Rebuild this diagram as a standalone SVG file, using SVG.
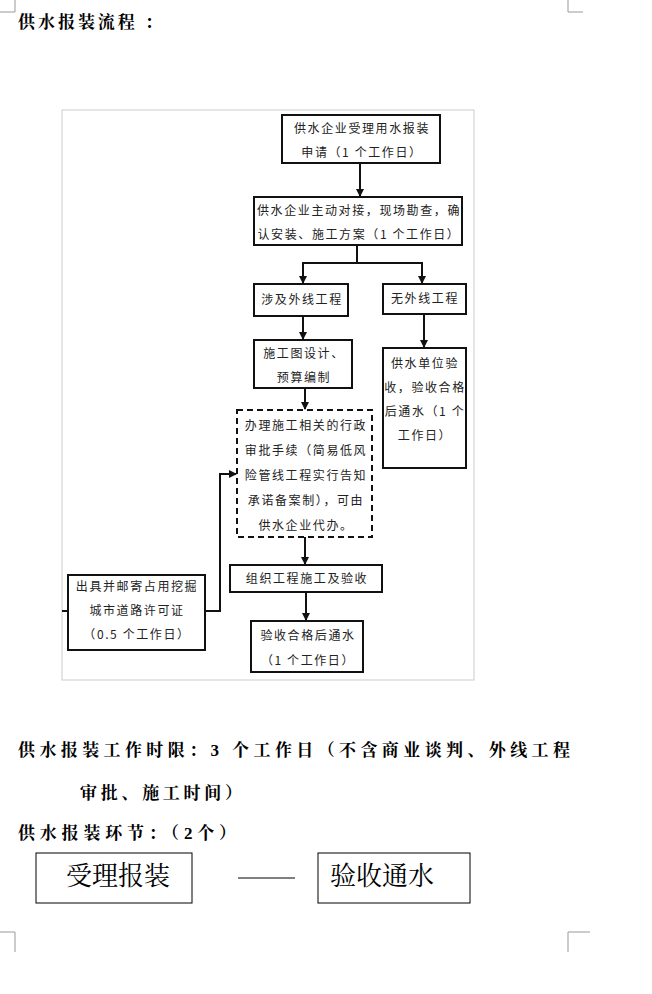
<svg xmlns="http://www.w3.org/2000/svg" width="652" height="994" viewBox="0 0 652 994">
<defs><marker id="ah" markerWidth="8" markerHeight="8" refX="7" refY="4" orient="auto" markerUnits="userSpaceOnUse"><path d="M0,0 L8,4 L0,8 Z" fill="#111"/></marker></defs>
<style>
.b{fill:#fff;stroke:#111;stroke-width:2}
.t{font-family:"Noto Sans CJK SC",sans-serif;font-size:12px;fill:#222;text-anchor:middle;letter-spacing:1.6px}
.h{font-family:"Liberation Serif","Noto Serif CJK SC","Noto Sans CJK SC",serif;font-size:17px;font-weight:bold;fill:#000}
.c{fill:none;stroke:#111;stroke-width:2}
.m{fill:none;stroke:#999;stroke-width:1}
</style>
<rect width="652" height="994" fill="#fff"/>
<path class="m" d="M15,0 V12 M0,12 H15 M568,0 V12 M568,12 H583 M15,952 V932 M0,932 H15 M568,952 V932 M568,932 H590"/>
<text class="h" x="18" y="28" textLength="144" lengthAdjust="spacing">供水报装流程 ：</text>
<rect x="62" y="110" width="412" height="570" fill="none" stroke="#ccc" stroke-width="1"/>
<g id="n1"><rect class="b" x="282" y="115" width="158" height="48"/><text class="t" x="362" y="133">供水企业受理用水报装</text><text class="t" x="362" y="157">申请（1 个工作日）</text></g>
<g id="n2"><rect class="b" x="254" y="197" width="208" height="48"/><text class="t" x="359" y="215">供水企业主动对接，现场勘查，确</text><text class="t" x="359" y="239">认安装、施工方案（1 个工作日）</text></g>
<g id="n3"><rect class="b" x="254" y="284" width="94" height="32"/><text class="t" x="302" y="304">涉及外线工程</text></g>
<g id="n4"><rect class="b" x="383" y="284" width="83" height="30"/><text class="t" x="425" y="303">无外线工程</text></g>
<g id="n5"><rect class="b" x="254" y="340" width="98" height="48"/><text class="t" x="304" y="358">施工图设计、</text><text class="t" x="304" y="382">预算编制</text></g>
<g id="n6"><rect class="b" x="383" y="348" width="83" height="120"/><text class="t" x="425" y="368">供水单位验</text><text class="t" x="425" y="392">收，验收合格</text><text class="t" x="425" y="416">后通水（1 个</text><text class="t" x="425" y="440">工作日）</text></g>
<g id="n7"><rect x="237" y="410" width="135" height="127" fill="#fff" stroke="#111" stroke-width="2" stroke-dasharray="6,4"/><text class="t" x="306" y="430">办理施工相关的行政</text><text class="t" x="306" y="455">审批手续（简易低风</text><text class="t" x="306" y="480">险管线工程实行告知</text><text class="t" x="306" y="505">承诺备案制），可由</text><text class="t" x="306" y="530">供水企业代办。</text></g>
<g id="n8"><rect class="b" x="230" y="565" width="152" height="27"/><text class="t" x="307" y="583">组织工程施工及验收</text></g>
<g id="n9"><rect class="b" x="251" y="621" width="112" height="51"/><text class="t" x="308" y="640">验收合格后通水</text><text class="t" x="308" y="665">（1 个工作日）</text></g>
<g id="n10"><rect class="b" x="68" y="575" width="137" height="75"/><text class="t" x="137" y="591">出具并邮寄占用挖掘</text><text class="t" x="137" y="615">城市道路许可证</text><text class="t" x="137" y="639">（0.5 个工作日）</text></g>
<g id="edges">
<path class="c" d="M360,163 V196" marker-end="url(#ah)"/>
<path class="c" d="M357,245 V263 H303 V283" marker-end="url(#ah)"/>
<path class="c" d="M357,263 H422 V283" marker-end="url(#ah)"/>
<path class="c" d="M303,316 V339" marker-end="url(#ah)"/>
<path class="c" d="M424,314 V347" marker-end="url(#ah)"/>
<path class="c" d="M305,388 V409" marker-end="url(#ah)"/>
<path class="c" d="M305,537 V564" marker-end="url(#ah)"/>
<path class="c" d="M306,592 V620" marker-end="url(#ah)"/>
<path class="c" d="M205,611 H220 V474 H236" marker-end="url(#ah)"/>
<path class="c" d="M62,611 H68"/>
</g>
<text class="h" x="18" y="756" textLength="552" lengthAdjust="spacing">供水报装工作时限：3 个工作日（不含商业谈判、外线工程</text>
<text class="h" x="80" y="799" textLength="162" lengthAdjust="spacing">审批、施工时间）</text>
<text class="h" x="18" y="839" textLength="218" lengthAdjust="spacing">供水报装环节：（2个）</text>
<g id="s1"><rect x="36" y="853" width="156" height="50" fill="#fff" stroke="#000" stroke-width="1"/><text x="118" y="885" style="font-family:'Noto Serif CJK SC','Noto Sans CJK SC',serif;font-size:26px;text-anchor:middle">受理报装</text></g>
<g id="s2"><rect x="318" y="853" width="152" height="50" fill="#fff" stroke="#000" stroke-width="1"/><text x="382" y="885" style="font-family:'Noto Serif CJK SC','Noto Sans CJK SC',serif;font-size:26px;text-anchor:middle">验收通水</text></g>
<path d="M238,878 H295" stroke="#000" stroke-width="1"/>
</svg>
